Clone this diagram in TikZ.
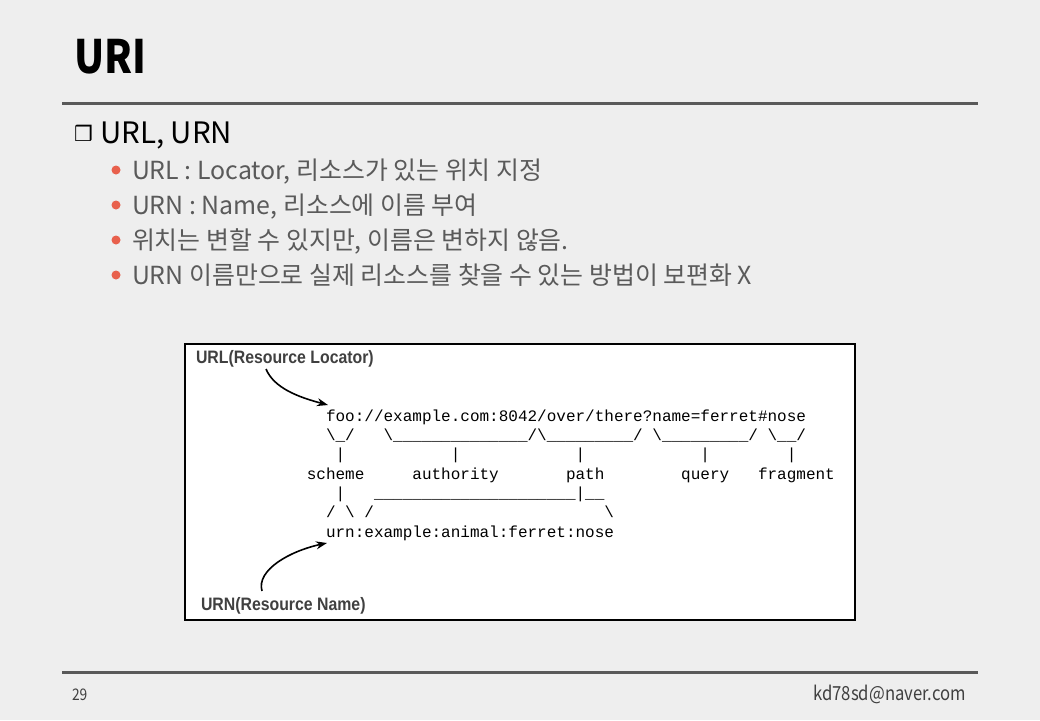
\documentclass[tikz,border=0pt]{standalone}
\usepackage{fontspec}
\setmainfont{Noto Sans CJK KR}
\newfontfamily\krfont{Noto Sans CJK KR}[FakeStretch=0.86]
\newfontfamily\krbody{Noto Sans CJK KR}
\newfontfamily\labfont{Liberation Sans}[FakeStretch=0.88]
\newfontfamily\monofont{Liberation Mono}
\newfontfamily\symfont{DejaVu Sans}
\usetikzlibrary{arrows.meta}
\definecolor{bg}{HTML}{EEEEEE}
\definecolor{rulecol}{HTML}{595959}
\definecolor{bodycol}{HTML}{5A5A5A}
\definecolor{dotcol}{HTML}{E8604C}
\definecolor{labcol}{HTML}{404040}
\newlength\cw
\setlength\cw{9.6pt}
\newcommand\gap[1]{\hspace*{#1\cw}}
\newcommand\uu[1]{\foreach\i in {1,...,#1}{\_}}
\newcommand\bs{\textbackslash}
\begin{document}
\begin{tikzpicture}[x=1pt,y=-1pt,
  every node/.style={inner sep=0pt,outer sep=0pt},
  sepline/.style={line width=3pt,draw=rulecol},
  bultext/.style={anchor=base west,text=bodycol,font=\krbody\fontsize{24.9}{27}\selectfont},
  buldot/.style={circle,fill=dotcol,minimum size=9pt},
  mono/.style={anchor=base west,text=black,font=\monofont\fontsize{16}{18}\selectfont},
  lab/.style={anchor=base west,text=labcol,font=\labfont\bfseries\fontsize{18}{20}\selectfont},
  pointer/.style={line width=1.6pt,-{Stealth[length=11pt,width=8pt]}}]
\useasboundingbox (0,0) rectangle (1040,720);
\fill[bg] (0,0) rectangle (1040,720);
% title
\node[anchor=base west,font=\krfont\bfseries\fontsize{46}{50}\selectfont] (title) at (74,73) {URI};
\draw[sepline] (62,103) -- (978,103);
% heading
\node[anchor=base west,font=\symfont\bfseries\fontsize{21}{23}\selectfont] (sym) at (74,141) {❒};
\node[anchor=base west,font=\krbody\fontsize{29.5}{32}\selectfont] (head) at (100,143) {URL, URN};
% bullets
\node[buldot] (d1) at (116,170) {};
\node[bultext] (b1) at (132,179) {URL : Locator, 리소스가 있는 위치 지정};
\node[buldot] (d2) at (116,205) {};
\node[bultext] (b2) at (132,214) {URN : Name, 리소스에 이름 부여};
\node[buldot] (d3) at (116,240) {};
\node[bultext] (b3) at (132,249) {위치는 변할 수 있지만, 이름은 변하지 않음.};
\node[buldot] (d4) at (116,275) {};
\node[bultext] (b4) at (132,284) {URN 이름만으로 실제 리소스를 찾을 수 있는 방법이 보편화 X};
% figure box
\draw[line width=2pt,fill=white] (185,344) rectangle (855,620);
\node[lab] (urllab) at (196,363) {URL(Resource Locator)};
\node[lab] (urnlab) at (201,610) {URN(Resource Name)};
% ascii art (column c at x = 239.6 + c*9.6)
\node[mono] (l1) at (326,421) {foo://example.com:8042/over/there?name=ferret\#nose};
\node[mono] (l2) at (326,440.3) {\bs\_/\gap{3}\bs\uu{14}/\bs\uu{9}/\gap{1}\bs\uu{9}/\gap{1}\bs\_\_/};
\node[mono] (l3) at (335.6,459.7) {|\gap{11}|\gap{12}|\gap{12}|\gap{8}|};
\node[mono] (l4) at (306.8,479) {scheme\gap{5}authority\gap{7}path\gap{8}query\gap{3}fragment};
\node[mono] (l5) at (335.6,498.3) {|\gap{3}\uu{21}|\_\_};
\node[mono] (l6) at (326,517.7) {/\gap{1}\bs\gap{1}/\gap{24}\bs};
\node[mono] (l7) at (326,537) {urn:example:animal:ferret:nose};
% pointers
\coordinate (urlfrom) at (266,369);
\coordinate (urlto) at (328,405);
\draw[pointer] (urlfrom) .. controls (274,388) and (298,397) .. (urlto);
\coordinate (urnfrom) at (262,591);
\coordinate (urnto) at (327,543);
\draw[pointer] (urnfrom) .. controls (256,570) and (290,551) .. (urnto);
% footer
\draw[sepline] (62,672) -- (978,672);
\node[anchor=base west,text=labcol,font=\krfont\fontsize{16}{18}\selectfont] (page) at (72,700) {29};
\node[anchor=base east,text=labcol,font=\krfont\fontsize{19.4}{21}\selectfont] (mail) at (966,700) {kd78sd@naver.com};
\end{tikzpicture}
\end{document}
